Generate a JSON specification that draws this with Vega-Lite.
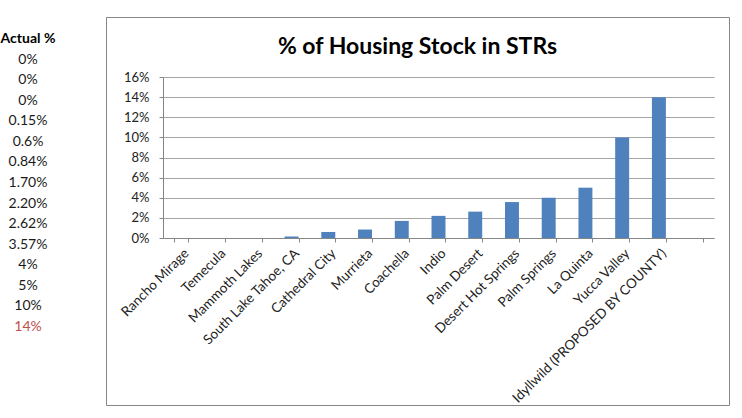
{
  "$schema": "https://vega.github.io/schema/vega-lite/v6.json",
  "padding": {"left": 0, "top": 16, "right": 14, "bottom": 14},
  "background": "white",
  "config": {"font": "Lato", "view": {"stroke": null}, "concat": {"spacing": 49}},
  "datasets": {
    "rows": [
      {"row": 1, "city": "Rancho Mirage", "pct": 0, "label": "0%"},
      {"row": 2, "city": "Temecula", "pct": 0, "label": "0%"},
      {"row": 3, "city": "Mammoth Lakes", "pct": 0, "label": "0%"},
      {"row": 4, "city": "South Lake Tahoe, CA", "pct": 0.15, "label": "0.15%"},
      {"row": 5, "city": "Cathedral City", "pct": 0.6, "label": "0.6%"},
      {"row": 6, "city": "Murrieta", "pct": 0.84, "label": "0.84%"},
      {"row": 7, "city": "Coachella", "pct": 1.7, "label": "1.70%"},
      {"row": 8, "city": "Indio", "pct": 2.2, "label": "2.20%"},
      {"row": 9, "city": "Palm Desert", "pct": 2.62, "label": "2.62%"},
      {"row": 10, "city": "Desert Hot Springs", "pct": 3.57, "label": "3.57%"},
      {"row": 11, "city": "Palm Springs", "pct": 4, "label": "4%"},
      {"row": 12, "city": "La Quinta", "pct": 5, "label": "5%"},
      {"row": 13, "city": "Yucca Valley", "pct": 10, "label": "10%"},
      {"row": 14, "city": "Idyllwild (PROPOSED BY COUNTY)", "pct": 14, "label": "14%"},
      {"row": 15, "city": " ", "pct": 0, "label": ""}
    ]
  },
  "data": {"name": "rows"},
  "hconcat": [
    {
      "width": 56,
      "height": 388,
      "layer": [
        {
          "data": {"values": [{"h": "Actual %", "row": 0}]},
          "mark": {"type": "text", "fontWeight": "bold", "fontSize": 14, "baseline": "middle", "color": "#000000"},
          "encoding": {
            "y": {"field": "row", "type": "quantitative", "scale": {"domain": [0, 14], "range": [22, 310]}, "axis": null},
            "text": {"field": "h"}
          }
        },
        {
          "transform": [{"filter": "datum.label !== ''"}],
          "mark": {"type": "text", "fontSize": 14, "baseline": "middle"},
          "encoding": {
            "y": {"field": "row", "type": "quantitative", "scale": {"domain": [0, 14], "range": [22, 310]}, "axis": null},
            "text": {"field": "label"},
            "color": {"condition": {"test": "datum.row === 14", "value": "#c0504d"}, "value": "#1a1a1a"}
          }
        }
      ]
    },
    {
      "width": 623,
      "height": 388,
      "view": {"stroke": "#868686", "strokeWidth": 1},
      "title": {
        "text": "% of Housing Stock in STRs",
        "fontSize": 23,
        "fontWeight": "bold",
        "font": "Lato",
        "color": "#000000",
        "anchor": "middle",
        "frame": "group",
        "baseline": "alphabetic",
        "offset": -60
      },
      "mark": {"type": "bar", "color": "#4f81bd"},
      "encoding": {
        "x": {
          "field": "city",
          "type": "nominal",
          "sort": null,
          "scale": {"range": [57, 608], "paddingInner": 0.62, "paddingOuter": 0.31},
          "axis": {
            "title": null,
            "offset": -167,
            "tickBand": "extent",
            "labelAngle": -45,
            "labelFontSize": 13.5,
            "labelLimit": 0,
            "labelColor": "#222222",
            "labelPadding": 4,
            "tickSize": 4,
            "tickColor": "#868686",
            "domainColor": "#868686",
            "grid": false
          }
        },
        "y": {
          "field": "pct",
          "type": "quantitative",
          "scale": {"domain": [0, 16], "range": [221, 60], "nice": false},
          "axis": {
            "title": null,
            "offset": -57,
            "values": [0, 2, 4, 6, 8, 10, 12, 14, 16],
            "labelExpr": "datum.value + '%'",
            "labelFontSize": 13,
            "labelColor": "#222222",
            "labelPadding": 10,
            "tickSize": 4,
            "tickColor": "#868686",
            "domainColor": "#868686",
            "grid": true,
            "gridColor": "#a6a6a6"
          }
        }
      }
    }
  ]
}
